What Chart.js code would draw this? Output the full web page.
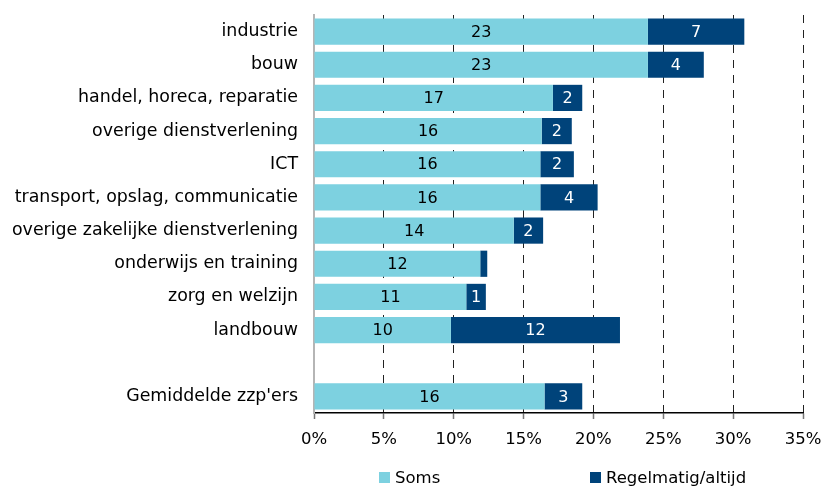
<!DOCTYPE html>
<html lang="nl">
<head>
<meta charset="UTF-8">
<title>zzp'ers per sector</title>
<script src="https://cdn.jsdelivr.net/npm/chart.js"></script>
<style>
  body { margin: 0; background: #fff; }
  .wrap { position: relative; width: 830px; height: 487px; }
  .legend-item {
    position: absolute; top: 467px; height: 21px;
    display: flex; align-items: center;
    font-family: 'DejaVu Sans', Verdana, sans-serif; font-size: 16.5px; color: #000;
  }
  .legend-item .box { width: 11px; height: 11px; margin-right: 5px; }
</style>
</head>
<body>
<div class="wrap">
  <canvas id="chart" width="830" height="487"></canvas>
  <div id="legend"></div>
</div>
<script>
// categories (empty one is the gap before the average)
const categories = [
  "industrie", "bouw", "handel, horeca, reparatie", "overige dienstverlening", "ICT",
  "transport, opslag, communicatie", "overige zakelijke dienstverlening",
  "onderwijs en training", "zorg en welzijn", "landbouw", "", "Gemiddelde zzp'ers"
];
// percentages
const soms =        [23.9, 23.9, 17.1, 16.3, 16.2, 16.2, 14.3, 11.9, 10.9, 9.8, null, 16.5];
const regelmatig =  [6.9, 4.0, 2.1, 2.15, 2.4, 4.1, 2.1, 0.5, 1.4, 12.1, null, 2.7];
// numbers printed inside the bars
const somsLabels =       ["23", "23", "17", "16", "16", "16", "14", "12", "11", "10", "", "16"];
const regelmatigLabels = ["7", "4", "2", "2", "2", "4", "2", "", "1", "12", "", "3"];
const xTicks = [0, 5, 10, 15, 20, 25, 30, 35];

const FONT = "'DejaVu Sans', Verdana, sans-serif";
const LIGHT = "#7DD1E0";
const DARK = "#00437A";

// draws the numbers in the middle of each segment
const barText = {
  id: "barText",
  afterDatasetsDraw(chart) {
    const ctx = chart.ctx;
    const texts = [somsLabels, regelmatigLabels];
    ctx.save();
    ctx.font = "16px " + FONT;
    ctx.textAlign = "center";
    ctx.textBaseline = "middle";
    chart.data.datasets.forEach((ds, di) => {
      ctx.fillStyle = di === 0 ? "#000" : "#fff";
      chart.getDatasetMeta(di).data.forEach((el, i) => {
        const t = texts[di][i];
        if (!t || ds.data[i] == null) return;
        ctx.fillText(t, (el.x + el.base) / 2, el.y + 1);
      });
    });
    ctx.restore();
  }
};

const chart = new Chart(document.getElementById("chart"), {
  type: "bar",
  data: {
    labels: categories,
    datasets: [
      { label: "Soms", data: soms, backgroundColor: LIGHT,
        categoryPercentage: 1, barPercentage: 0.79 },
      { label: "Regelmatig/altijd", data: regelmatig, backgroundColor: DARK,
        categoryPercentage: 1, barPercentage: 0.79 }
    ]
  },
  options: {
    indexAxis: "y",
    responsive: false,
    animation: false,
    layout: { padding: { left: 0, right: 27, top: 15, bottom: 34 } },
    plugins: {
      legend: { display: false },
      tooltip: { enabled: false }
    },
    scales: {
      x: {
        stacked: true,
        min: 0, max: 35,
        afterBuildTicks: (s) => { s.ticks = xTicks.map(v => ({ value: v })); },
        afterFit: (s) => { s.height = 40; s.paddingLeft = 0; s.paddingRight = 0; },
        ticks: {
          callback: (v) => v + "%",
          color: "#000",
          padding: 11,
          maxRotation: 0,
          font: { family: FONT, size: 16.5 }
        },
        grid: {
          color: (c) => c.index === 0 ? "rgba(0,0,0,0)" : "#222",
          lineWidth: 1,
          tickLength: 6,
          tickColor: "#777",
          tickBorderDash: [],
          tickWidth: 1.5
        },
        border: { display: true, color: "#000", width: 1.5, dash: [8, 7] }
      },
      y: {
        stacked: true,
        afterFit: (s) => { s.width = 314; s.paddingTop = 0; s.paddingBottom = 0; },
        ticks: {
          color: "#000",
          padding: 8,
          autoSkip: false,
          font: { family: FONT, size: 17.4 }
        },
        grid: { display: false },
        border: { display: true, color: "#b5b5b5", width: 2 }
      }
    }
  },
  plugins: [barText]
});

// legend as html, built from the datasets
const legendPos = [379, 590];
const legendEl = document.getElementById("legend");
chart.data.datasets.forEach((ds, i) => {
  const item = document.createElement("div");
  item.className = "legend-item";
  item.style.left = legendPos[i] + "px";
  item.innerHTML = '<span class="box" style="background:' + ds.backgroundColor + '"></span>' + ds.label;
  legendEl.appendChild(item);
});
</script>
</body>
</html>
